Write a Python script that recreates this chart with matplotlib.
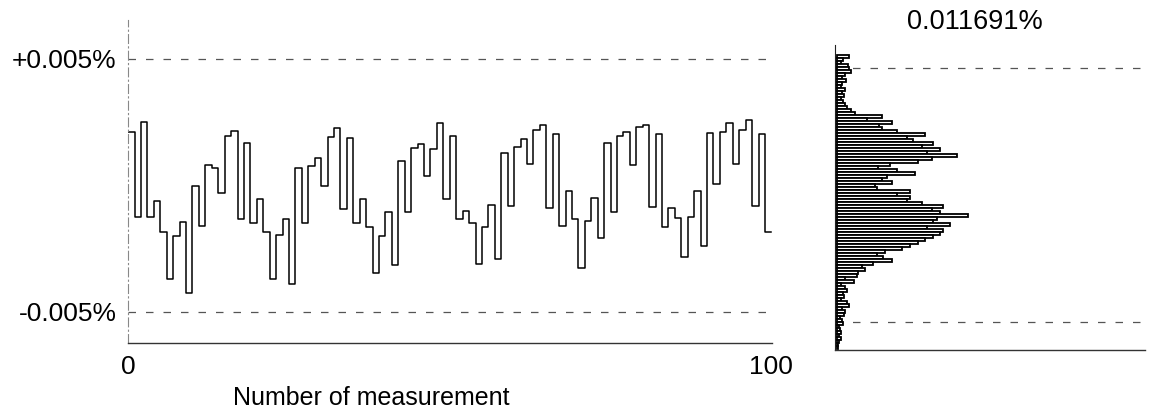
import numpy as np
import matplotlib.pyplot as plt

plt.rcParams['font.family'] = ['Liberation Sans', 'DejaVu Sans']

# deviation of each measurement, in units of 0.001 %
deviation = [2.11, -1.25, 2.51, -1.25, -0.61, -1.84, -3.70, -2.00, -1.44, -4.25,
             -0.02, -1.60, 0.81, 0.69, -0.30, 1.96, 2.15, -1.32, 1.68, -1.48,
             -0.53, -1.84, -3.70, -1.96, -1.32, -3.89, 0.69, -1.48, 0.77, 1.09,
             -0.02, 1.92, 2.27, -0.93, 1.88, -1.48, -0.53, -1.64, -3.46, -2.00,
             -1.05, -3.14, 0.97, -1.05, 1.48, 1.64, 0.38, 1.44, 2.47, -0.53,
             1.96, -1.32, -1.01, -1.48, -3.10, -1.64, -0.77, -2.91, 1.28, -0.81,
             1.52, 1.84, 0.85, 2.19, 2.39, -0.89, 2.04, -1.60, -0.22, -1.32,
             -3.26, -1.40, -0.49, -2.08, 1.68, -1.05, 1.96, 2.11, 0.81, 2.31,
             2.39, -0.85, 2.04, -1.64, -0.89, -1.28, -2.83, -1.25, -0.22, -2.39,
             2.08, 0.06, 2.11, 2.47, 0.85, 2.19, 2.59, -0.81, 2.04, -1.84]

# histogram counts (relative bar length), from the top bin down
hist_counts = [12, 6, 4, 11, 12, 14, 8, 5, 9, 5,
               4, 8, 5, 7, 4, 6, 8, 10, 14, 18,
               45, 30, 55, 42, 45, 60, 88, 70, 76, 96,
               85, 103, 90, 120, 95, 81, 53, 41, 60, 78,
               50, 45, 55, 38, 40, 73, 60, 73, 70, 85,
               106, 95, 103, 131, 100, 96, 113, 90, 106, 103,
               96, 88, 81, 73, 65, 48, 40, 46, 55, 36,
               25, 28, 21, 20, 8, 17, 4, 8, 10, 6,
               7, 4, 10, 12, 5, 8, 7, 3, 5, 6,
               2, 3, 4, 2, 4, 2, 1, 1]
hist_hi = 5.51
hist_span = 11.56

limit_ticks = [-5, 5]
limit_labels = ['-0.005%', '+0.005%']
hist_title = '0.011691%'

fig = plt.figure(figsize=(11.54, 4.12), dpi=100)

# left: time series
ax = fig.add_axes([0.1105, 0.1675, 0.5585, 0.784])
n = len(deviation)
xs = np.arange(n + 1)
ax.step(xs, deviation + [deviation[-1]], where='post', color='black', lw=1.1)
for v in limit_ticks:
    ax.axhline(v, color='#555555', lw=0.9, ls=(0, (6, 8)))
ax.set_xlim(-0.1, 100.1)
ax.set_ylim(-6.23, 6.54)
ax.set_xticks([0, 100])
ax.set_xticklabels(['0', '100'], fontsize=19)
ax.set_yticks(limit_ticks)
ax.set_yticklabels(limit_labels, fontsize=19)
ax.tick_params(length=0, pad=9)
ax.tick_params(axis='y', pad=8)
for s in ['top', 'right']:
    ax.spines[s].set_visible(False)
ax.spines['left'].set_color('#888888')
ax.spines['left'].set_linestyle((0, (8, 3, 1, 3)))
ax.spines['left'].set_linewidth(0.8)
ax.spines['bottom'].set_color('#333333')
ax.spines['bottom'].set_linewidth(1.0)
fig.text(371 / 1154, 1 - 398 / 412, 'Number of measurement', ha='center', va='center', fontsize=18)

# right: histogram
ah = fig.add_axes([0.7236, 0.1505, 0.2686, 0.7403])
nb = len(hist_counts)
bh = hist_span / nb
centers = hist_hi - bh * (np.arange(nb) + 0.5)
for v in limit_ticks:
    ah.axhline(v, color='#555555', lw=0.9, ls=(0, (6, 8)), zorder=0)
ah.barh(centers, hist_counts, height=bh, left=0, color='white', edgecolor='black', lw=1.3)
ah.set_xlim(-2, 308)
ah.set_ylim(-6.10, 5.91)
ah.set_xticks([])
ah.set_yticks([])
for s in ['top', 'right']:
    ah.spines[s].set_visible(False)
ah.spines['left'].set_color('#222222')
ah.spines['bottom'].set_color('#333333')
ah.spines['bottom'].set_linewidth(1.0)
fig.text(975 / 1154, 1 - 22 / 412, hist_title, ha='center', va='center', fontsize=19.5)

fig.savefig('out.png', dpi=100)
